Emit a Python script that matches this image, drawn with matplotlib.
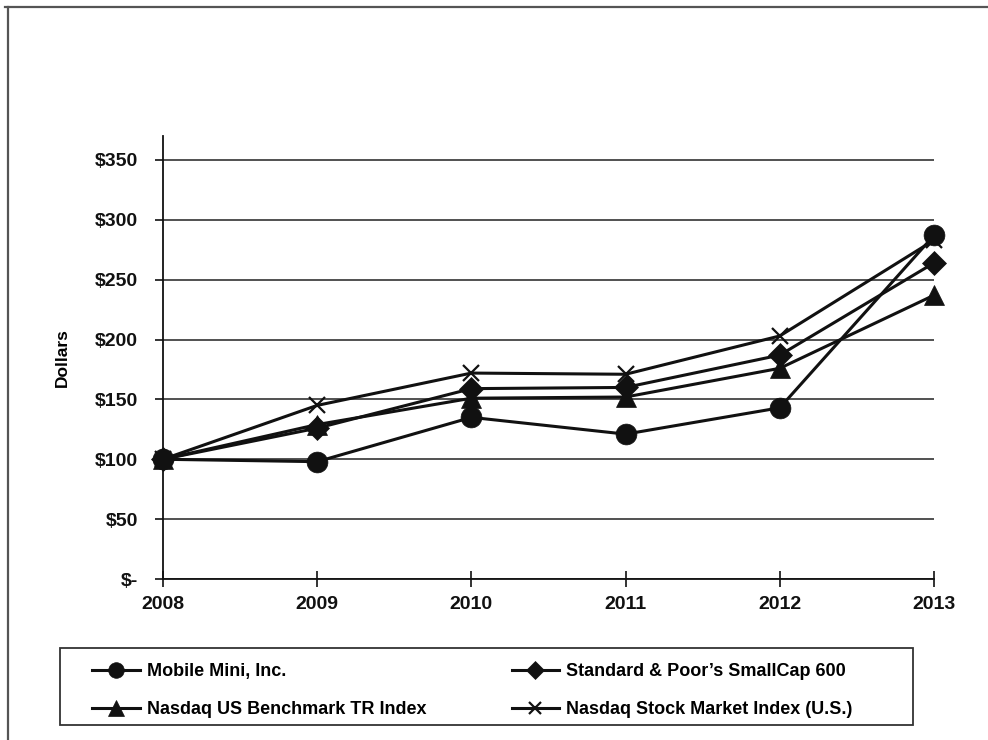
import matplotlib
matplotlib.use("Agg")
import matplotlib.pyplot as plt
from matplotlib.lines import Line2D
from matplotlib.patches import Rectangle

years = [2008, 2009, 2010, 2011, 2012, 2013]
mobile_mini = [100, 98, 135, 121, 143, 287]
sp_smallcap = [100, 126, 159, 160, 187, 264]
nasdaq_bench = [100, 129, 151, 152, 176, 237]
nasdaq_stock = [100, 145, 172, 171, 203, 283]
labels = ["Mobile Mini, Inc.", "Standard & Poor\u2019s SmallCap 600",
          "Nasdaq US Benchmark TR Index", "Nasdaq Stock Market Index (U.S.)"]
yticks = [0, 50, 100, 150, 200, 250, 300, 350]
ytick_labels = ["$-", "$50", "$100", "$150", "$200", "$250", "$300", "$350"]

plt.rcParams['font.family'] = ['Liberation Sans', 'DejaVu Sans']
plt.rcParams['font.weight'] = 'bold'

W, H = 988, 740
fig = plt.figure(figsize=(W / 100, H / 100), dpi=100)
ax = fig.add_axes([163 / W, 1 - 579 / H, (934 - 163) / W, (579 - 136) / H])

series = [mobile_mini, sp_smallcap, nasdaq_bench, nasdaq_stock]
markers = ['o', 'D', '^', 'x']
msizes = [15, 12, 15, 11]

lines = {}
for i in [3, 2, 1, 0]:
    ln, = ax.plot(years, series[i], color='#111111', lw=2.2, marker=markers[i],
                  ms=msizes[i], mew=1.6 if markers[i] == 'x' else 0.5,
                  mec='#111111', mfc='#111111', clip_on=False, zorder=3 + (3 - i))
    lines[i] = ln

ax.set_xlim(2008, 2013)
ax.set_ylim(0, 370)
ax.set_yticks(yticks)
ax.set_yticklabels(ytick_labels)
ax.set_xticks(years)
ax.set_xticklabels([str(y) for y in years])
for s in ['top', 'right']:
    ax.spines[s].set_visible(False)
for s in ['left', 'bottom']:
    ax.spines[s].set_linewidth(1.3)
    ax.spines[s].set_color('#111111')
ax.yaxis.grid(True, color='#222222', lw=1.1)
ax.set_axisbelow(True)
ax.tick_params(axis='y', direction='out', length=6, width=1.2, labelsize=14, pad=12, colors='#111111')
ax.tick_params(axis='x', direction='inout', length=12, width=1.2, labelsize=14, pad=6, colors='#111111')
ax.set_ylabel("Dollars", fontsize=12.5, fontweight='bold')
ax.yaxis.set_label_coords((70 - 163) / 771, 0.5)

# outer frame lines
fig.add_artist(Line2D([8 / W, 8 / W], [0, 1 - 7 / H], color='#555555', lw=1.6))
fig.add_artist(Line2D([5 / W, 1], [1 - 7 / H, 1 - 7 / H], color='#555555', lw=1.6))

# legend box
fig.add_artist(Rectangle((60 / W, 1 - 725 / H), (913 - 60) / W, (725 - 648) / H,
                         transform=fig.transFigure, fill=False, ec='#333333', lw=1.3))
hnd = [lines[0], lines[2], lines[1], lines[3]]
lab = [labels[0], labels[2], labels[1], labels[3]]
leg = fig.legend(hnd, lab, ncol=2, loc='upper left',
                 bbox_to_anchor=(78 / W, 1 - 649 / H), frameon=False,
                 fontsize=13, handlelength=2.65, handletextpad=0.38,
                 columnspacing=4.7, labelspacing=1.15, borderpad=0.3,
                 markerscale=0.75)

fig.savefig("out.png", dpi=100)
